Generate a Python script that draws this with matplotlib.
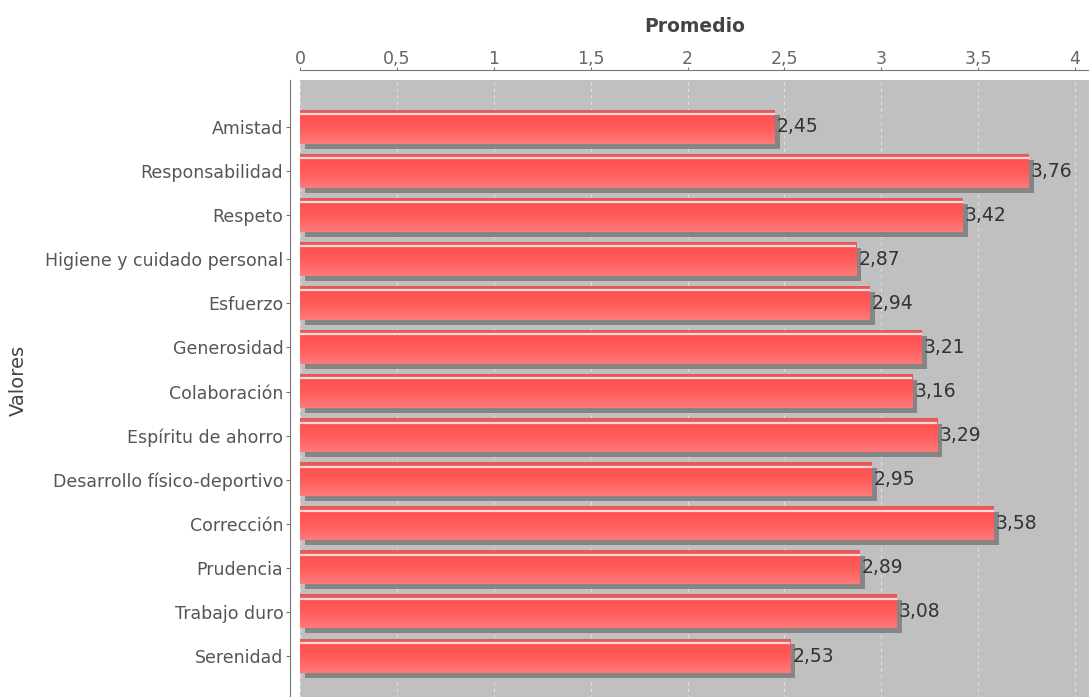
import numpy as np
import matplotlib
matplotlib.use("Agg")
import matplotlib.pyplot as plt
from matplotlib.transforms import offset_copy
from matplotlib.colors import LinearSegmentedColormap

# --- data ---
valores = ["Amistad", "Responsabilidad", "Respeto", "Higiene y cuidado personal",
           "Esfuerzo", "Generosidad", "Colaboración", "Espíritu de ahorro",
           "Desarrollo físico-deportivo", "Corrección", "Prudencia",
           "Trabajo duro", "Serenidad"]
promedio = [2.45, 3.76, 3.42, 2.87, 2.94, 3.21, 3.16, 3.29, 2.95, 3.58, 2.89, 3.08, 2.53]
ticks = [0, 0.5, 1, 1.5, 2, 2.5, 3, 3.5, 4]
tick_labels = ["0", "0,5", "1", "1,5", "2", "2,5", "3", "3,5", "4"]

plt.rcParams["font.family"] = ["DejaVu Sans"]

fig = plt.figure(figsize=(10.89, 6.97), dpi=100)
ax = fig.add_axes([300 / 1089, -6 / 697, 789 / 1089, 623 / 697])
ax.set_facecolor("#c0c0c0")

y = np.arange(len(valores))
h = 0.75

# --- shadows, offset a few pixels right/down ---
shadow = offset_copy(ax.transData, fig=fig, x=5, y=-5, units="dots")
ax.barh(y, promedio, height=h, color="#858585", transform=shadow, zorder=2)

# --- main bars with a vertical gradient ---
cmap = LinearSegmentedColormap.from_list("rojo", ["#ff4e4e", "#ff5a5a", "#ff7a7a"])
grad = np.linspace(0, 1, 64).reshape(-1, 1)
for yi, v in zip(y, promedio):
    ax.imshow(grad, cmap=cmap, aspect="auto", origin="upper",
              extent=[0, v, yi + h / 2, yi - h / 2], zorder=3)
    # darker edge and light highlight line near top of bar
    ax.plot([0, v], [yi - h / 2 + 0.02] * 2, color="#d86060", lw=1.5, zorder=4,
            solid_capstyle="butt")
    ax.plot([0, v], [yi - h / 2 + 0.08] * 2, color="#ffd8d8", lw=1.6, zorder=4,
            solid_capstyle="butt")
    ax.annotate(f"{v:.2f}".replace(".", ","), (v, yi), xytext=(1.5, 0),
                textcoords="offset points", va="center", ha="left",
                fontsize=13.5, color="#333333", zorder=5)

ax.set_xlim(0, 789 / 193.75)
ax.set_ylim(len(valores) - 1 + 1.066, -1.066)

# --- axes styling ---
ax.xaxis.tick_top()
ax.xaxis.set_label_position("top")
ax.set_xticks(ticks)
ax.set_xticklabels(tick_labels)
ax.set_yticks(y)
ax.set_yticklabels(valores)
ax.tick_params(axis="x", colors="#777777", labelsize=12.5, length=2.5, pad=-1,
               labelcolor="#666666")
ax.tick_params(axis="y", colors="#777777", labelsize=12.5, length=3, pad=2,
               labelcolor="#555555")
ax.xaxis.grid(True, color="#e0e0e0", linestyle=(0, (3, 3)), lw=0.8)
ax.set_axisbelow(True)

for s in ["right", "bottom"]:
    ax.spines[s].set_visible(False)
for s in ["top", "left"]:
    ax.spines[s].set_position(("outward", 7))
    ax.spines[s].set_color("#777777")

ax.set_xlabel("Promedio", fontsize=13.5, fontweight="bold", color="#444444", labelpad=13)
fig.text(18 / 1089, 1 - 380 / 697, "Valores", rotation=90, fontsize=14,
         color="#444444", ha="center", va="center")

plt.savefig("out.png", dpi=100)
